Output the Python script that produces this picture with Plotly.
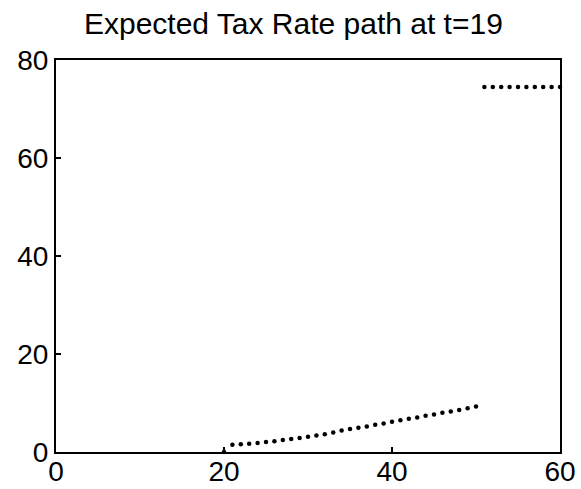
import plotly.graph_objects as go

# Lower segment: periods 20..50
t_low = list(range(20, 51))
rate_low = [0.0, 1.50, 1.57, 1.70, 1.83, 2.03, 2.17, 2.44, 2.64, 2.84, 3.11,
            3.38, 3.62, 3.98, 4.38, 4.67, 4.94, 5.21, 5.55, 5.82, 6.16,
            6.50, 6.77, 7.04, 7.38, 7.65, 7.99, 8.26, 8.59, 8.93, 9.27]

# Upper segment: periods 51..60
t_high = list(range(51, 61))
rate_high = [74.5] * 10

x_ticks = [0, 20, 40, 60]
y_ticks = [0, 20, 40, 60, 80]

fig = go.Figure()
fig.add_trace(go.Scatter(x=t_low, y=rate_low, mode="markers",
                         marker=dict(color="black", size=4.5), cliponaxis=False,
                         showlegend=False))
fig.add_trace(go.Scatter(x=t_high, y=rate_high, mode="markers",
                         marker=dict(color="black", size=4.5), cliponaxis=False,
                         showlegend=False))

axis_common = dict(showgrid=False, zeroline=False, showline=True, linecolor="black",
                   linewidth=2, mirror=True, ticks="inside", ticklen=5,
                   tickcolor="black", tickwidth=1.5, automargin=False,
                   tickfont=dict(family="Liberation Sans, Arial", size=28, color="black"))

fig.update_xaxes(range=[0, 60], tickvals=x_ticks, ticktext=[str(v) for v in x_ticks],
                 ticklabelstandoff=-7, **axis_common)
fig.update_yaxes(range=[0, 80], tickvals=y_ticks, ticktext=[str(v) for v in y_ticks],
                 **axis_common)

fig.update_layout(
    width=581, height=489,
    margin=dict(l=56, r=21, t=60, b=37),
    paper_bgcolor="white", plot_bgcolor="white",
    title=dict(text="Expected Tax Rate path at t=19", x=0.505, xanchor="center",
               y=0.952, yanchor="middle",
               font=dict(family="Liberation Sans, Arial", size=30, color="black")),
)

fig.write_html("out.html", config={"displayModeBar": False},
               post_script="document.body.style.margin='0';document.body.style.padding='0';")
